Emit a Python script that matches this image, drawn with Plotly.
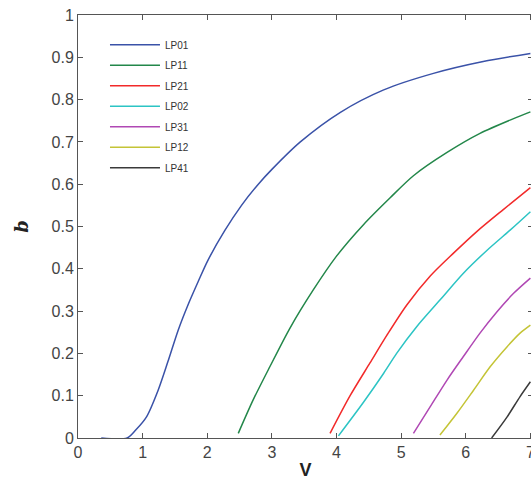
import plotly.graph_objects as go

# ---- data ----
modes = ["LP01", "LP11", "LP21", "LP02", "LP31", "LP12", "LP41"]
colors = ["#3a52a8", "#23874a", "#f22a2a", "#2cc4c4", "#b048b4", "#c4c436", "#3a3a3a"]

V01 = [0.36, 0.76, 0.90, 1.06, 1.24, 1.39, 1.55, 1.70, 1.86, 2.01, 2.27, 2.53, 2.79, 3.0, 3.44, 4.06, 4.73, 5.50, 6.27, 7.0]
b01 = [0.0, 0.0, 0.02, 0.05, 0.113, 0.18, 0.255, 0.314, 0.37, 0.42, 0.49, 0.55, 0.60, 0.635, 0.70, 0.77, 0.823, 0.862, 0.89, 0.909]

V11 = [2.48, 2.71, 2.97, 3.28, 3.64, 4.0, 4.42, 4.83, 5.19, 5.71, 6.22, 6.74, 7.0]
b11 = [0.011, 0.09, 0.169, 0.26, 0.35, 0.43, 0.505, 0.568, 0.62, 0.675, 0.72, 0.755, 0.771]

V21 = [3.90, 4.21, 4.52, 4.78, 5.09, 5.45, 5.81, 6.17, 6.58, 7.0]
b21 = [0.011, 0.10, 0.178, 0.243, 0.315, 0.383, 0.437, 0.488, 0.54, 0.592]

V02 = [4.03, 4.42, 4.73, 4.93, 5.24, 5.60, 5.96, 6.33, 6.69, 7.0]
b02 = [0.005, 0.085, 0.153, 0.2, 0.263, 0.326, 0.389, 0.444, 0.492, 0.535]

V31 = [5.19, 5.45, 5.71, 5.96, 6.22, 6.48, 6.74, 7.0]
b31 = [0.011, 0.074, 0.137, 0.192, 0.248, 0.298, 0.342, 0.378]

V12 = [5.60, 5.86, 6.12, 6.38, 6.64, 6.84, 7.0]
b12 = [0.007, 0.058, 0.113, 0.169, 0.216, 0.248, 0.267]

V41 = [6.40, 6.64, 6.84, 7.0]
b41 = [0.0, 0.05, 0.098, 0.133]

xticks = [0, 1, 2, 3, 4, 5, 6, 7]
yticks = [0, 0.1, 0.2, 0.3, 0.4, 0.5, 0.6, 0.7, 0.8, 0.9, 1]
ytick_text = ["0", "0.1", "0.2", "0.3", "0.4", "0.5", "0.6", "0.7", "0.8", "0.9", "1"]

series = [(V01, b01), (V11, b11), (V21, b21), (V02, b02), (V31, b31), (V12, b12), (V41, b41)]

fig = go.Figure()
for name, col, (vx, by) in zip(modes, colors, series):
    fig.add_trace(go.Scatter(
        x=vx, y=by, mode="lines", name=name, legendgroup=name,
        line=dict(color=col, width=1.5, shape="spline", smoothing=0.8),
    ))

# ticks-only right axis
fig.add_trace(go.Scatter(x=[None], y=[None], yaxis="y2", showlegend=False, hoverinfo="skip"))

axis_col = "#555555"
font_col = "#444444"
fig.update_layout(
    width=533, height=480,
    margin=dict(l=78, r=0, t=15, b=42),
    paper_bgcolor="white", plot_bgcolor="white",
    font=dict(family="Liberation Sans, Arial, sans-serif", color=font_col),
    showlegend=True,
    legend=dict(
        x=0.0593, y=0.964, xanchor="left", yanchor="top",
        bgcolor="rgba(0,0,0,0)", borderwidth=0,
        font=dict(size=10, color="#333333"),
        tracegroupgap=1.5, itemwidth=50,
    ),
    xaxis=dict(
        range=[0, 7.04], tickvals=xticks, ticktext=[str(t) for t in xticks],
        showline=True, linecolor=axis_col, linewidth=1, mirror="ticks",
        ticks="inside", ticklen=5, tickcolor=axis_col,
        showgrid=False, zeroline=False, automargin=False, ticklabeloverflow="allow",
        tickfont=dict(size=16, color=font_col),
        title=dict(text="<b>V</b>", font=dict(size=18, color="#222222"), standoff=5),
    ),
    yaxis=dict(
        range=[0, 1], tickvals=yticks, ticktext=ytick_text,
        showline=True, linecolor=axis_col, linewidth=1,
        ticks="inside", ticklen=5, tickcolor=axis_col,
        showgrid=False, zeroline=False, automargin=False, ticklabeloverflow="allow",
        tickfont=dict(size=16, color=font_col),
        title=dict(text="<b><i>b</i></b>", font=dict(size=18, color="#222222", family="DejaVu Serif, serif"), standoff=18),
    ),
    yaxis2=dict(
        range=[0, 1], tickvals=yticks, overlaying="y", side="right",
        showline=False, ticks="inside", ticklen=5, tickcolor=axis_col,
        showticklabels=False, showgrid=False, zeroline=False, automargin=False,
    ),
)

fig.write_html(
    "out.html",
    config={"displayModeBar": False},
    post_script="document.body.style.margin='0';document.body.style.overflow='hidden';"
                "document.documentElement.style.overflow='hidden';",
)
